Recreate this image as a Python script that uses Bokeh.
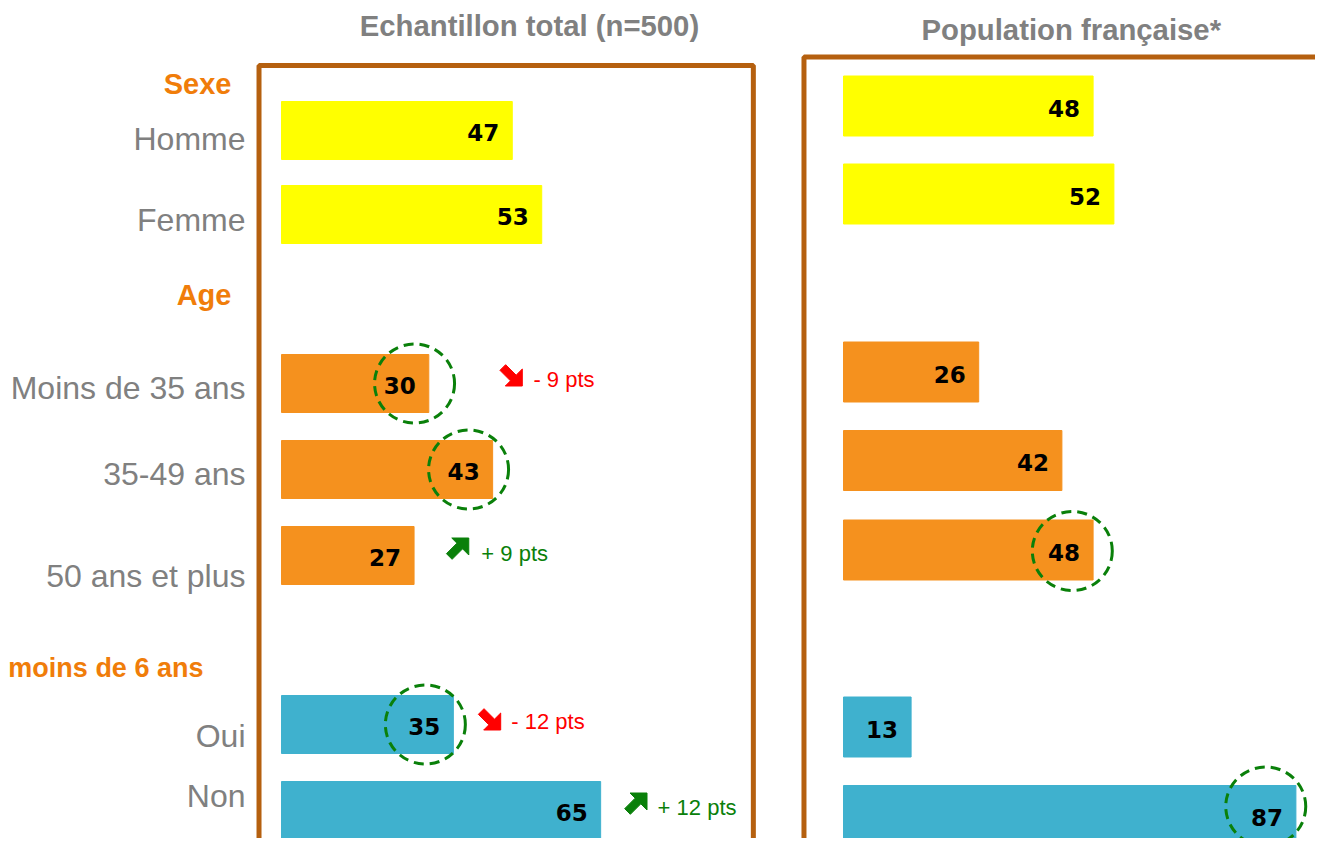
from bokeh.plotting import figure
from bokeh.models import Range1d
from bokeh.core.properties import value
from bokeh.embed import file_html
from bokeh.resources import INLINE

# ---------------- data ----------------
categories = ["Homme", "Femme", "Moins de 35 ans", "35-49 ans", "50 ans et plus", "Oui", "Non"]
groups = ["Sexe", "Age", "moins de 6 ans"]
group_of = [0, 0, 1, 1, 1, 2, 2]
echantillon = [47, 53, 30, 43, 27, 35, 65]
population = [48, 52, 26, 42, 48, 13, 87]
ecarts = [None, None, -9, None, 9, -12, 12]
highlight_echantillon = [False, False, True, True, False, True, False]
highlight_population = [False, False, False, False, True, False, True]
titles = ["Echantillon total (n=500)", "Population française*"]

# ---------------- styles / layout ----------------
group_colors = ["#FFFF00", "#F5911E", "#3FB1CE"]
gray = "#808080"
orange_txt = "#F07D0A"
box_color = "#B5600F"
green = "#0A800A"
red = "#FF0000"

W, H = 1315, 838
SL, OL = 4.91, 281     # left panel: px per unit, px of zero
SR, OR = 5.2, 843      # right panel

row_y_left = [130, 214, 383, 469, 555, 724, 810]
row_y_right = [105.5, 193.5, 371.5, 460, 549.5, 726.5, 815]
label_y = [138, 219, 387, 473, 575, 735, 795]
group_y = [83, 294, 667]
group_x = [-10.2, -10.2, -15.9]
label_x = -7.33
circle_shift_left = [0, 0, -2.9, -4.9, 0, -5.7, 0]
circle_shift_right = [0, 0, 0, 0, -4.0, 0, -5.8]
circle_dy_right = [0, 0, 0, 0, 1, 0, -9]
arrow_cx = [None, None, 46.7, None, 35.8, 42.3, 72.1]
arrow_cy = [None, None, 375, None, 548, 719, 803]
delta_tx = [None, None, 51.3, None, 40.7, 46.8, 76.6]
delta_ty = [None, None, 379, None, 553, 721, 807]
# block-arrow outline (screen px, pointing down-right; mirrored in y for up-right)
arrow_shape_x = [-5.17, 5.33, 11.5, 11.5, -5.5, -0.33, -10.83]
arrow_shape_y = [-10.83, -0.33, -6.5, 10.5, 10.5, 5.33, -5.17]

p = figure(width=W, height=H,
           x_range=Range1d(-OL / SL, (W - OL) / SL),
           y_range=Range1d(H, 0),
           output_backend="svg", toolbar_location=None,
           x_axis_location=None, y_axis_location=None,
           min_border=0)
p.extra_x_ranges = {"pop": Range1d(-OR / SR, (W - OR) / SR)}
p.grid.visible = False
p.outline_line_color = None
p.background_fill_color = "white"
p.border_fill_color = "white"

colors = [group_colors[g] for g in group_of]

# boxes
p.quad(left=[-4.58], right=[96.1], top=[65], bottom=[851],
       fill_color=None, line_color=box_color, line_width=5)
p.quad(left=[-7.6], right=[120], top=[56.5], bottom=[900],
       fill_color=None, line_color=box_color, line_width=5, x_range_name="pop")

# bars
p.hbar(y=row_y_left, left=0, right=echantillon, height=58, color=colors)
p.hbar(y=row_y_right, left=0, right=population, height=60, color=colors, x_range_name="pop")

# values
vfont = dict(text_font=value("DejaVu Sans"), text_font_style="bold", text_font_size="23px",
             text_color="black", text_align="right", text_baseline="middle", x_offset=-13, y_offset=2)
p.text(x=echantillon, y=row_y_left, text=[str(v) for v in echantillon], **vfont)
p.text(x=population, y=row_y_right, text=[str(v) for v in population], x_range_name="pop", **vfont)

# highlight circles
cstyle = dict(width=80, height=79, width_units="screen", height_units="screen",
              fill_color=None, line_color=green, line_width=3, line_dash="10 6")
idx = [i for i, h in enumerate(highlight_echantillon) if h]
p.ellipse(x=[echantillon[i] + circle_shift_left[i] for i in idx],
          y=[row_y_left[i] for i in idx], **cstyle)
idx = [i for i, h in enumerate(highlight_population) if h]
p.ellipse(x=[population[i] + circle_shift_right[i] for i in idx],
          y=[row_y_right[i] + circle_dy_right[i] for i in idx], x_range_name="pop", **cstyle)

# category labels
p.text(x=[label_x] * len(categories), y=label_y, text=categories,
       text_font=value("Liberation Sans"), text_font_size="32px", text_color=gray,
       text_align="right", text_baseline="middle")
# group headers
p.text(x=group_x[:2], y=group_y[:2], text=groups[:2],
       text_font=value("Liberation Sans"), text_font_style="bold", text_font_size="29px",
       text_color=orange_txt, text_align="right", text_baseline="middle")
p.text(x=group_x[2:], y=group_y[2:], text=groups[2:],
       text_font=value("Liberation Sans"), text_font_style="bold", text_font_size="27px",
       text_color=orange_txt, text_align="right", text_baseline="middle")
# titles
tstyle = dict(text_font=value("Liberation Sans"), text_font_style="bold", text_font_size="29.3px",
              text_color=gray, text_align="center", text_baseline="middle")
p.text(x=[50.5], y=[25], text=[titles[0]], **tstyle)
p.text(x=[43.8], y=[29], text=[titles[1]], x_range_name="pop", **tstyle)

# deltas (block arrows + text)
xs_list, ys_list, cols = [], [], []
for i, d in enumerate(ecarts):
    if d is None:
        continue
    col = red if d < 0 else green
    sgn = 1 if d < 0 else -1
    xs_list.append([arrow_cx[i] + ox / SL for ox in arrow_shape_x])
    ys_list.append([arrow_cy[i] + sgn * oy for oy in arrow_shape_y])
    cols.append(col)
    txt = ("- " if d < 0 else "+ ") + f"{abs(d)} pts"
    p.text(x=[delta_tx[i]], y=[delta_ty[i]], text=[txt],
           text_font=value("Liberation Sans"), text_font_size="22px", text_color=col,
           text_align="left", text_baseline="middle")
p.patches(xs=xs_list, ys=ys_list, fill_color=cols, line_color=cols, line_width=1)

open("out.html", "w").write(file_html(p, INLINE))
